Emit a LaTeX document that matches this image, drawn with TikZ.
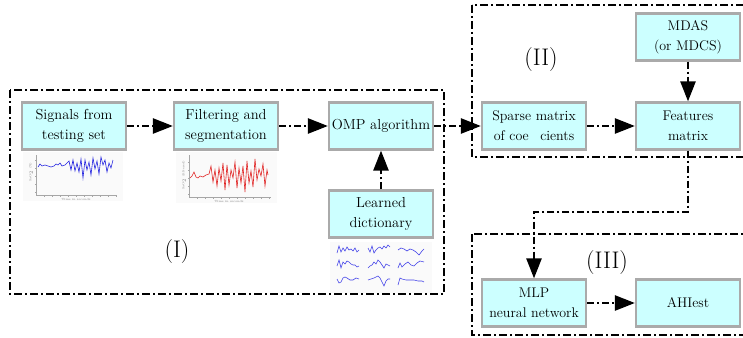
\documentclass[tikz,border=0pt]{standalone}
\usetikzlibrary{arrows.meta}
\definecolor{boxfill}{HTML}{CCFFFF}
\definecolor{boxdraw}{HTML}{AAAAAA}
\definecolor{sigblue}{HTML}{2020E0}
\definecolor{sigred}{HTML}{E02020}
\definecolor{dictblue}{HTML}{4040E8}
\begin{document}
\begin{tikzpicture}[x=1pt,y=-1pt,
  box/.style={draw=boxdraw, fill=boxfill, line width=2.2pt, minimum width=104pt, minimum height=47pt,
    align=center, inner sep=1pt, font=\fontsize{14.5}{20}\selectfont},
  rbox/.style={box, font=\fontsize{14}{20}\selectfont},
  flow/.style={line width=2.5pt, dash pattern=on 7pt off 3pt on 2pt off 3pt,
    -{Triangle[length=20pt,width=15pt]}},
  grp/.style={line width=2.5pt, dash pattern=on 8pt off 3pt on 2pt off 3pt},
  glabel/.style={font=\fontsize{24}{28}\selectfont},
  axis/.style={draw=gray!70, line width=0.4pt},
  tiny/.style={font=\fontsize{3}{3}\selectfont, text=gray}]
\useasboundingbox (0,0) rectangle (743,337);
\clip (0,0) rectangle (743,337);

% group frames
\draw[grp] (10,90) rectangle (444,294);
\draw[grp] (472,5) rectangle (760,157);
\draw[grp] (472,234) rectangle (760,335);

% group labels
\node[glabel] (lI) at (177,252) {(I)};
\node[glabel] (lII) at (541,60) {(II)};
\node[glabel] (lIII) at (607,263) {(III)};

% nodes
\node[box] (sig) at (74,126) {Signals from\\testing set};
\node[box] (filt) at (226,126) {Filtering and\\segmentation};
\node[box] (omp) at (381,126) {OMP algorithm};
\node[box] (dict) at (381,214) {Learned\\dictionary};
\node[rbox] (sparse) at (534,126) {Sparse matrix\\of coe\phantom{ffi}cients};
\node[rbox] (feat) at (688,126) {Features\\matrix};
\node[rbox] (mdas) at (688,37) {MDAS\\(or MDCS)};
\node[rbox] (mlp) at (534,303) {MLP\\neural network};
\node[rbox] (ahi) at (688,303) {AHIest};

% connectors
\draw[flow] (sig) -- (filt);
\draw[flow] (filt) -- (omp);
\draw[flow] (dict) -- (omp);
\draw[flow] (omp) -- (sparse);
\draw[flow] (sparse) -- (feat);
\draw[flow] (mdas) -- (feat);
\coordinate (b1) at (688,212);
\coordinate (b2) at (534,212);
\draw[flow] (feat.south) -- (b1) -- (b2) -- (mlp.north);
\draw[flow] (mlp) -- (ahi);

% plot 1 (blue)
\fill[gray!4] (23,152) rectangle (123,201);
\draw[axis] (36,155) -- (36,195) -- (116,195);
\foreach \t in {44,52,...,116} \draw[axis] (\t,195) -- (\t,196.5);
\foreach \t in {160,168,...,192} \draw[axis] (36,\t) -- (34.5,\t);
\node[tiny, rotate=90] (p1y) at (31,172) {SaO$_2$ (\%)};
\node[tiny] (p1x) at (76,199) {Time in seconds};
\draw[sigblue, line width=0.6pt] plot coordinates {(38,167)(40,164)(42,166)(45,165)(48,166)(51,167)(54,166)(56,164)(58,165)(60,163)(62,166)(65,165)(67,163)(69,161)(71,170)(73,160)(75,171)(77,163)(79,172)(81,159)(83,178)(85,160)(87,170)(89,162)(91,175)(93,158)(95,169)(97,161)(99,174)(101,157)(103,165)(105,160)(107,172)(109,163)(111,168)(113,160)};

% plot 2 (red)
\fill[gray!4] (176,152) rectangle (277,203);
\draw[axis] (189,155) -- (189,197) -- (271,197);
\foreach \t in {197,205,...,269} \draw[axis] (\t,197) -- (\t,198.5);
\foreach \t in {162,170,...,194} \draw[axis] (189,\t) -- (187.5,\t);
\node[tiny, rotate=90] (p2y) at (184,175) {SaO$_2$ (filtered)};
\node[tiny] (p2x) at (229,201) {Time in seconds};
\draw[sigred, line width=0.6pt] plot coordinates {(190,178)(192,176)(194,172)(196,177)(198,178)(200,176)(203,177)(206,175)(209,174)(211,166)(213,182)(215,170)(217,186)(219,168)(221,181)(223,163)(225,190)(227,165)(229,185)(231,170)(233,178)(235,162)(237,188)(239,168)(241,183)(243,166)(245,192)(247,161)(249,183)(251,171)(253,187)(255,159)(257,180)(259,169)(261,176)(263,164)(265,186)(267,170)(268,175)};

% dictionary atoms
\fill[gray!4] (330,242) rectangle (432,293);
\begin{scope}[dictblue, line width=0.6pt]
\draw plot coordinates {(337,253)(339,246)(341,252)(343,248)(345,251)(347,247)(349,250)(351,249)(353,251)(355,248)(357,252)(359,250)};
\draw plot coordinates {(368,248)(370,252)(372,246)(374,253)(376,250)(378,248)(380,247)(382,249)(384,246)(386,248)(388,245)(390,247)};
\draw plot coordinates {(398,250)(401,248)(404,249)(407,251)(410,249)(413,250)(416,252)(419,255)(422,251)(424,249)};
\draw plot coordinates {(337,266)(339,260)(341,268)(343,262)(345,264)(347,261)(349,262)(351,264)(353,265)(355,265)(357,267)(359,266)};
\draw plot coordinates {(368,268)(370,266)(372,265)(374,262)(376,264)(378,260)(380,262)(382,265)(384,268)(386,264)(388,265)(390,266)};
\draw plot coordinates {(398,268)(400,263)(402,267)(405,264)(408,262)(411,265)(414,266)(417,263)(420,261)(424,262)};
\draw plot coordinates {(337,279)(339,283)(341,282)(343,278)(345,277)(347,278)(350,280)(353,280)(356,278)(359,279)};
\draw plot coordinates {(368,280)(371,279)(374,278)(376,277)(378,276)(380,278)(382,282)(384,286)(386,281)(388,279)(390,279)};
\draw plot coordinates {(398,285)(400,278)(402,279)(406,280)(410,280)(414,280)(418,281)(422,281)(424,282)};
\end{scope}
\end{tikzpicture}
\end{document}
